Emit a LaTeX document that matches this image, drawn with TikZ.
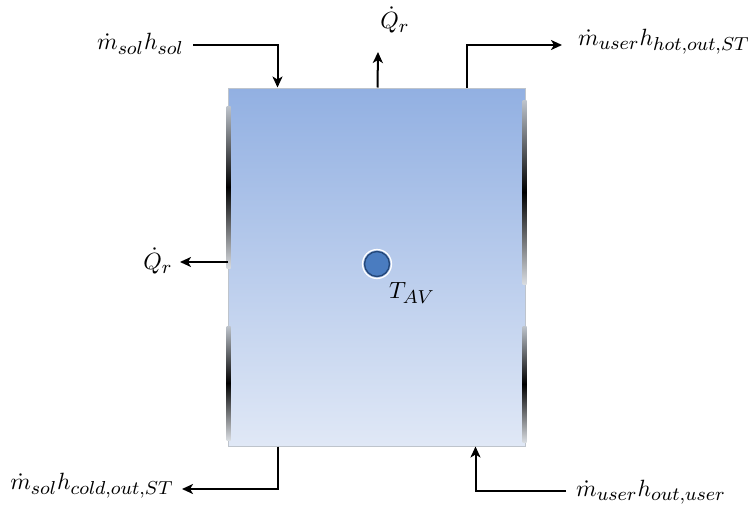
\documentclass[tikz,border=0pt]{standalone}
\usetikzlibrary{arrows.meta,calc}
\DeclareMathSizes{10}{10}{8}{6}
\definecolor{boxtop}{RGB}{146,176,226}
\definecolor{boxbot}{RGB}{224,232,246}
\definecolor{boxedge}{RGB}{190,196,204}
\definecolor{dotfill}{RGB}{74,124,192}
\definecolor{dotedge}{RGB}{36,72,122}
\newcommand{\lblmath}[1]{\scalebox{2.35}{$#1$}}
\begin{document}
\begin{tikzpicture}[x=1pt,y=-1pt,
  flow/.style={line width=2pt,-{Stealth[length=11pt,width=10pt,inset=3pt]}},
  lbl/.style={inner sep=0pt},
  tank/.style={draw=boxedge,line width=1pt,top color=boxtop,bottom color=boxbot,
    minimum width=297pt,minimum height=358pt,inner sep=0pt},
  edgeshade/.style={top color=boxedge,bottom color=boxedge!60,middle color=black,draw=none}]
\useasboundingbox (0,0) rectangle (751,511);
% tank
\node[tank] (box) at (376.5,267) {};
% dark edge shading
\shade[edgeshade] (226.5,106) rectangle (230.5,268);
\shade[edgeshade] (226.5,326) rectangle (230.5,440);
\shade[edgeshade] (522.5,100) rectangle (526.5,284);
\shade[edgeshade] (522.5,326) rectangle (526.5,442);
% temperature dot
\node[circle,draw=white,line width=1.2pt,minimum size=29pt,inner sep=0pt] (halo) at (377,264) {};
\node[circle,fill=dotfill,draw=dotedge,line width=1.4pt,minimum size=25pt,inner sep=0pt] (dot) at (377,264) {};
\node[lbl] (tav) at (412,293) {\lblmath{T_{AV}}};
% labels
\node[lbl,anchor=east] (msol) at (184,44) {\lblmath{\dot{m}_{sol}h_{sol}}};
\node[lbl] (qtop) at (395,20) {\lblmath{\dot{Q}_r}};
\node[lbl,anchor=west] (muhot) at (578,42) {\lblmath{\dot{m}_{user}h_{hot,out,ST}}};
\node[lbl] (qleft) at (158,261) {\lblmath{\dot{Q}_r}};
\node[lbl,anchor=east] (mscold) at (174,486) {\lblmath{\dot{m}_{sol}h_{cold,out,ST}}};
\node[lbl,anchor=west] (muout) at (576,492) {\lblmath{\dot{m}_{user}h_{out,user}}};
% anchor coordinates on the tank
\coordinate (inA) at ($(box.north west)+(50,0)$);
\coordinate (topQ) at ($(box.north west)+(150,0)$);
\coordinate (outA) at ($(box.north west)+(239,0)$);
\coordinate (leftQ) at ($(box.west)+(0,-5)$);
\coordinate (outB) at ($(box.south west)+(50,0)$);
\coordinate (inB) at ($(box.south west)+(248,0)$);
\coordinate (qtopend) at (378,52);
\coordinate (qleftend) at (180,262);
\coordinate (muhotend) at (562,45);
\coordinate (msolstart) at (193,45);
\coordinate (mscoldend) at (182,489);
\coordinate (muoutstart) at (566,491);
% connectors
\draw[flow] (msolstart) -| (inA);
\draw[flow] (topQ) -- (qtopend);
\draw[flow] (outA) |- (muhotend);
\draw[flow] (leftQ) -- (qleftend);
\draw[flow] (outB) |- (mscoldend);
\draw[flow] (muoutstart) -| (inB);
\end{tikzpicture}
\end{document}
